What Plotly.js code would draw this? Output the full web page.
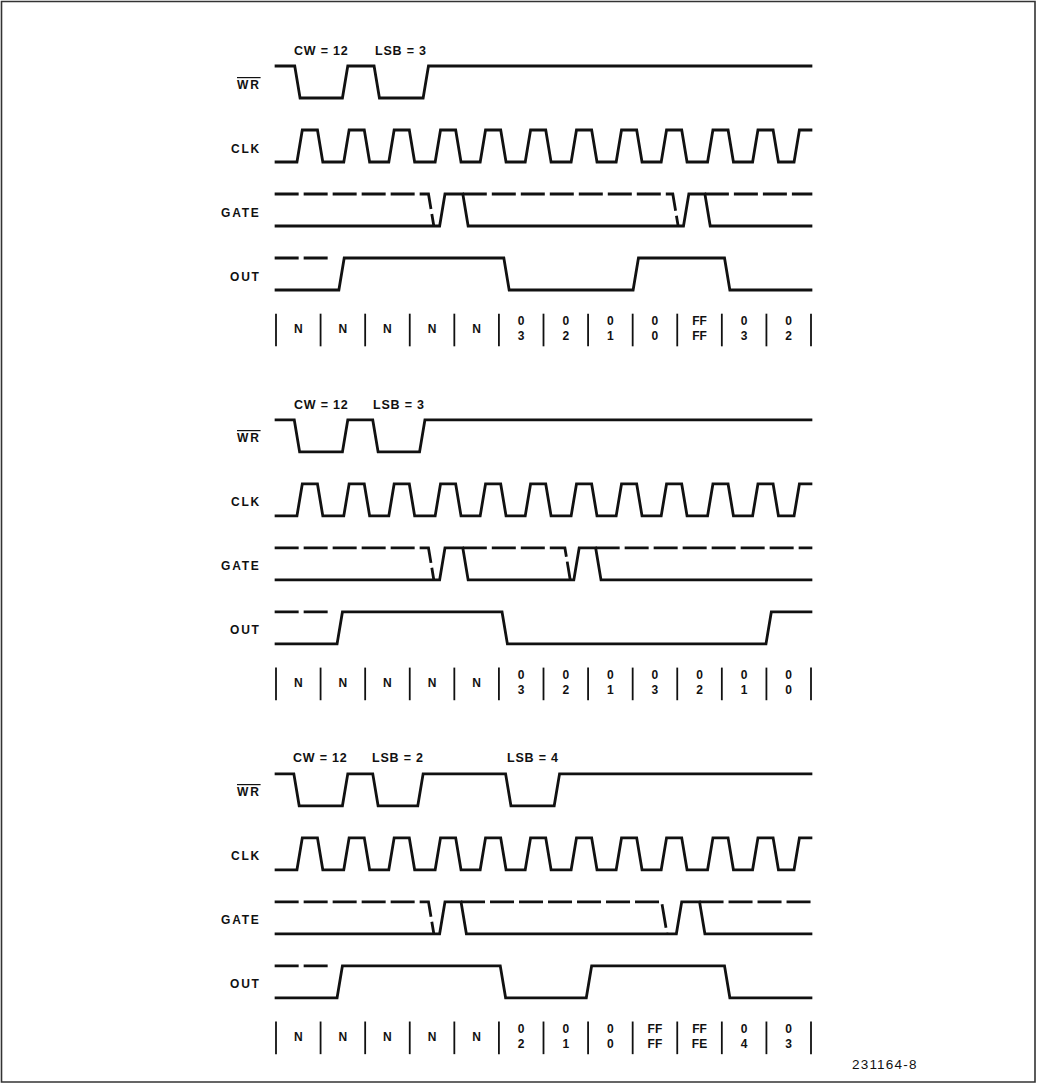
<!DOCTYPE html>
<html><head><meta charset="utf-8">
<script src="https://cdn.plot.ly/plotly-3.0.1.min.js"></script>
<style>html,body{margin:0;padding:0;background:#fff;} #chart{width:1037px;height:1084px;}</style>
</head><body><div id="chart"></div>
<script>
// ---------- data (times in clock-cell units) ----------
const signalNames = ["WR", "CLK", "GATE", "OUT"];
const activeLow = [true, false, false, false];
const cellEdges = [0, 1, 2, 3, 4, 5, 6, 7, 8, 9, 10, 11, 12];

const wrEdges1 = [0.42, 1.49, 2.20, 3.30];
const wrEdges2 = [0.41, 1.49, 2.17, 3.22];
const wrEdges3 = [0.40, 1.49, 2.17, 3.18, 5.15, 6.24];
const wrNotes1 = ["CW = 12", "LSB = 3"];
const wrNotes2 = ["CW = 12", "LSB = 3"];
const wrNotes3 = ["CW = 12", "LSB = 2", "LSB = 4"];

const clkRise = [0.47, 1.52, 2.53, 3.57, 4.58, 5.59, 6.62, 7.63, 8.64, 9.68, 10.69, 11.62];
const clkFall = [0.93, 1.98, 2.99, 4.03, 5.04, 6.05, 7.08, 8.09, 9.10, 10.14, 11.15];

const gateDash1 = [3.42, 8.90];
const gateRise1 = [3.67, 9.14];
const gateFall1 = [4.19, 9.62];
const gateDash2 = [3.42, 6.48];
const gateRise2 = [3.67, 6.68];
const gateFall2 = [4.19, 7.17];
const gateDash3 = [3.42, 8.65];
const gateRise3 = [3.67, 8.98];
const gateFall3 = [4.15, 9.50];

const outEdges1 = [1.41, 5.11, 8.01, 10.06];
const outEdges2 = [1.37, 5.07, 10.99];
const outEdges3 = [1.37, 5.03, 6.96, 10.06];
const outDashEnd = [1.27, 1.27, 1.25];

const counts1 = ["N", "N", "N", "N", "N", "0<br>3", "0<br>2", "0<br>1", "0<br>0", "FF<br>FF", "0<br>3", "0<br>2"];
const counts2 = ["N", "N", "N", "N", "N", "0<br>3", "0<br>2", "0<br>1", "0<br>3", "0<br>2", "0<br>1", "0<br>0"];
const counts3 = ["N", "N", "N", "N", "N", "0<br>2", "0<br>1", "0<br>0", "FF<br>FF", "FF<br>FE", "0<br>4", "0<br>3"];

const figureId = "231164-8";

// ---------- layout constants ----------
const T0 = -0.03, T1 = 12.03, W = 0.12, AMP = 0.5;
const panelOff = [0, 5.53, 11.06];
const ROW = {wr: 0, clk: 1, gate: 2, out: 3};
const barTop = 3.87, barBot = 4.38, cntY = 4.12;
const FONT = 'Liberation Sans, Arial, sans-serif';

function yOf(p, row, level) { return -(panelOff[p] + row) - (level ? 0 : AMP); }
function spaced(s, px, over) {
  return '<span style="letter-spacing:' + px + 'px' + (over ? ';text-decoration:overline' : '') + '">' + s + '</span>';
}

function wave(p, row, init, edges, xs, ys) {
  let lvl = init;
  xs.push(T0); ys.push(yOf(p, row, lvl));
  edges.slice().sort((a, b) => a - b).forEach(e => {
    xs.push(e); ys.push(yOf(p, row, lvl));
    lvl = 1 - lvl;
    xs.push(e + W); ys.push(yOf(p, row, lvl));
  });
  xs.push(T1); ys.push(yOf(p, row, lvl));
  xs.push(null); ys.push(null);
}

const sx = [], sy = [], dx = [], dy = [];
const panels = [
  {wr: wrEdges1, notes: wrNotes1, gd: gateDash1, gr: gateRise1, gf: gateFall1, out: outEdges1, cnt: counts1},
  {wr: wrEdges2, notes: wrNotes2, gd: gateDash2, gr: gateRise2, gf: gateFall2, out: outEdges2, cnt: counts2},
  {wr: wrEdges3, notes: wrNotes3, gd: gateDash3, gr: gateRise3, gf: gateFall3, out: outEdges3, cnt: counts3}
];
const annotations = [];
const bx = [], by = [], tx = [], ty = [], tt = [];
const clkEdges = clkRise.concat(clkFall);

panels.forEach((P, p) => {
  wave(p, ROW.wr, 1, P.wr, sx, sy);
  wave(p, ROW.clk, 0, clkEdges, sx, sy);
  wave(p, ROW.gate, 0, P.gr.concat(P.gf), sx, sy);
  wave(p, ROW.out, 0, P.out, sx, sy);
  // gate dashed (undefined prior state)
  P.gd.forEach((d, i) => {
    const s = i === 0 ? T0 : P.gf[i - 1];
    dx.push(s, d, d + W, null);
    dy.push(yOf(p, ROW.gate, 1), yOf(p, ROW.gate, 1), yOf(p, ROW.gate, 0), null);
  });
  dx.push(P.gf[P.gf.length - 1], T1, null);
  dy.push(yOf(p, ROW.gate, 1), yOf(p, ROW.gate, 1), null);
  // out dashed
  dx.push(T0, outDashEnd[p], null);
  dy.push(yOf(p, ROW.out, 1), yOf(p, ROW.out, 1), null);
  // notes above WR low pulses
  P.notes.forEach((n, k) => {
    const c = (P.wr[2 * k] + P.wr[2 * k + 1]) / 2 + W / 2;
    annotations.push({x: c, y: -panelOff[p] + 0.24, text: spaced(n, 0.8), showarrow: false,
      xanchor: 'center', yanchor: 'middle',
      font: {family: FONT, size: 12.5, color: '#111', weight: 700}});
  });
  // signal labels
  signalNames.forEach((nm, r) => {
    annotations.push({x: -0.3, y: -(panelOff[p] + r) - AMP / 2 - 0.04, text: spaced(nm, 1.8, activeLow[r]), showarrow: false,
      xanchor: 'right', yanchor: 'middle',
      font: {family: FONT, size: 12, color: '#111', weight: 700}});
  });
  // counter bars and values
  cellEdges.forEach(e => {
    bx.push(e, e, null);
    by.push(-(panelOff[p] + barTop), -(panelOff[p] + barBot), null);
  });
  P.cnt.forEach((c, k) => {
    tx.push((cellEdges[k] + cellEdges[k + 1]) / 2);
    ty.push(-(panelOff[p] + cntY));
    tt.push(c);
  });
});

annotations.push({xref: 'paper', yref: 'paper', x: 885 / 1037, y: 1 - 1064 / 1084, text: spaced(figureId, 1.2),
  showarrow: false, xanchor: 'center', yanchor: 'middle',
  font: {family: FONT, size: 13.5, color: '#111'}});

const traces = [
  {x: sx, y: sy, mode: 'lines', line: {color: '#111', width: 2.8}, hoverinfo: 'skip'},
  {x: dx, y: dy, mode: 'lines', line: {color: '#111', width: 2.8, dash: '24px,5px'}, hoverinfo: 'skip'},
  {x: bx, y: by, mode: 'lines', line: {color: '#111', width: 1.8}, hoverinfo: 'skip'},
  {x: tx, y: ty, mode: 'text', text: tt, textposition: 'middle center',
    textfont: {family: FONT, size: 12, color: '#111', weight: 700}, hoverinfo: 'skip'}
];

const pxPerT = 535 / 12;
const layout = {
  width: 1037, height: 1084,
  margin: {l: 0, r: 0, t: 0, b: 0},
  paper_bgcolor: '#fff', plot_bgcolor: '#fff',
  showlegend: false,
  xaxis: {range: [-276 / pxPerT, (1037 - 276) / pxPerT], visible: false, fixedrange: true},
  yaxis: {range: [(66 - 1084) / 64, 66 / 64], visible: false, fixedrange: true},
  annotations: annotations,
  shapes: [{type: 'rect', xref: 'paper', yref: 'paper',
    x0: 1.5 / 1037, x1: 1035 / 1037, y0: 1 - 1082 / 1084, y1: 1 - 1.5 / 1084,
    line: {color: '#333', width: 1.6}}]
};

Plotly.newPlot('chart', traces, layout, {staticPlot: true, displayModeBar: false});
</script>
</body></html>
